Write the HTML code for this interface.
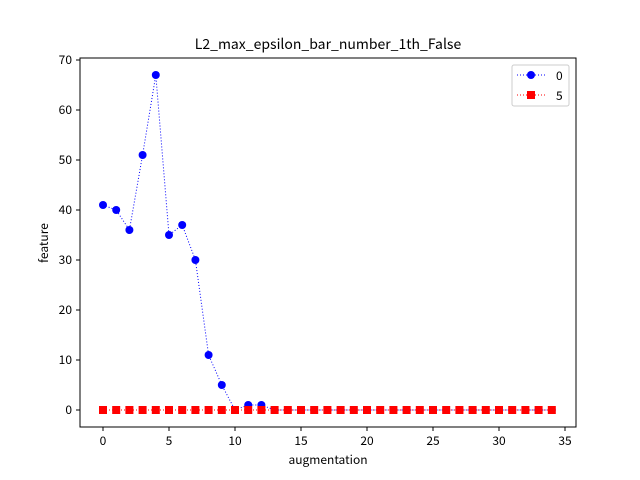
<!DOCTYPE html>
<html><head><meta charset="utf-8"><style>body{margin:0;background:#fff}svg{display:block;font-family:"WenQuanYi Zen Hei","Noto Sans CJK SC",sans-serif}</style></head>
<body>
<svg id="c" width="640" height="480" xmlns="http://www.w3.org/2000/svg">
<rect width="640" height="480" fill="#fff"/>
<text x="328" y="49" text-anchor="middle" font-size="14">L2_max_epsilon_bar_number_1th_False</text>
<text x="328" y="464" text-anchor="middle" font-size="12">augmentation</text>
<text x="0" y="0" transform="translate(48,243) rotate(-90)" text-anchor="middle" font-size="12">feature</text>
<g id="ticks"></g>
<g id="marks"></g>
<rect x="80" y="58" width="496" height="369" fill="none" stroke="#000" stroke-width="1"/>
<g>
<rect x="512" y="65" width="57" height="41" rx="2" fill="#fff" stroke="#ccc"/>
<g>
<line x1="517" y1="75" x2="545" y2="75" stroke="blue" stroke-dasharray="1,2"/><circle cx="531" cy="75" r="4" fill="blue"/>
<text x="556" y="80" font-size="12">0</text></g>
<g>
<line x1="517" y1="95" x2="545" y2="95" stroke="red" stroke-dasharray="1,2"/><rect x="527" y="91" width="8" height="8" fill="red"/>
<text x="556" y="100" font-size="12">5</text></g>
</g>
</svg>
<script>
const xCats=[...Array(35).keys()];
const series0=[41,40,36,51,67,35,37,30,11,5,0,1,1,0,0,0,0,0,0,0,0,0,0,0,0,0,0,0,0,0,0,0,0,0,0];
const series5=[0,0,0,0,0,0,0,0,0,0,0,0,0,0,0,0,0,0,0,0,0,0,0,0,0,0,0,0,0,0,0,0,0,0,0];
const xTicks=[0,5,10,15,20,25,30,35];
const yTicks=[0,10,20,30,40,50,60,70];
const NS="http://www.w3.org/2000/svg";
const X=v=>103+v*13.2, Y=v=>410-v*5;
function mk(t,a,p){const e=document.createElementNS(NS,t);for(const k in a)e.setAttribute(k,a[k]);p.appendChild(e);return e;}
const tg=document.getElementById('ticks'), mg=document.getElementById('marks');
xTicks.forEach(v=>{const g=mk('g',{},tg);


mk('line',{x1:X(v),x2:X(v),y1:427,y2:431,stroke:'#000'},g);const t=mk('text',{x:X(v),y:445,'text-anchor':'middle','font-size':12},g);t.textContent=v;});
yTicks.forEach(v=>{const g=mk('g',{},tg);


mk('line',{x1:76,x2:80,y1:Y(v),y2:Y(v),stroke:'#000'},g);const t=mk('text',{x:72,y:Y(v)+4,'text-anchor':'end','font-size':12},g);t.textContent=v;});
function draw(data,color,shape,name){
const g=mk('g',{},mg);


const pl=mk('polyline',{points:data.map((d,i)=>X(xCats[i])+','+Y(d)).join(' '),fill:'none',stroke:color,'stroke-dasharray':'1,2'},g);


data.forEach((d,i)=>{let m;
if(shape==='c')m=mk('circle',{cx:X(xCats[i]),cy:Y(d),r:4,fill:color},g);
else m=mk('rect',{x:X(xCats[i])-4,y:Y(d)-4,width:8,height:8,fill:color},g);

});
}
draw(series0,'blue','c','0');
draw(series5,'red','s','5');
</script>
</body></html>
